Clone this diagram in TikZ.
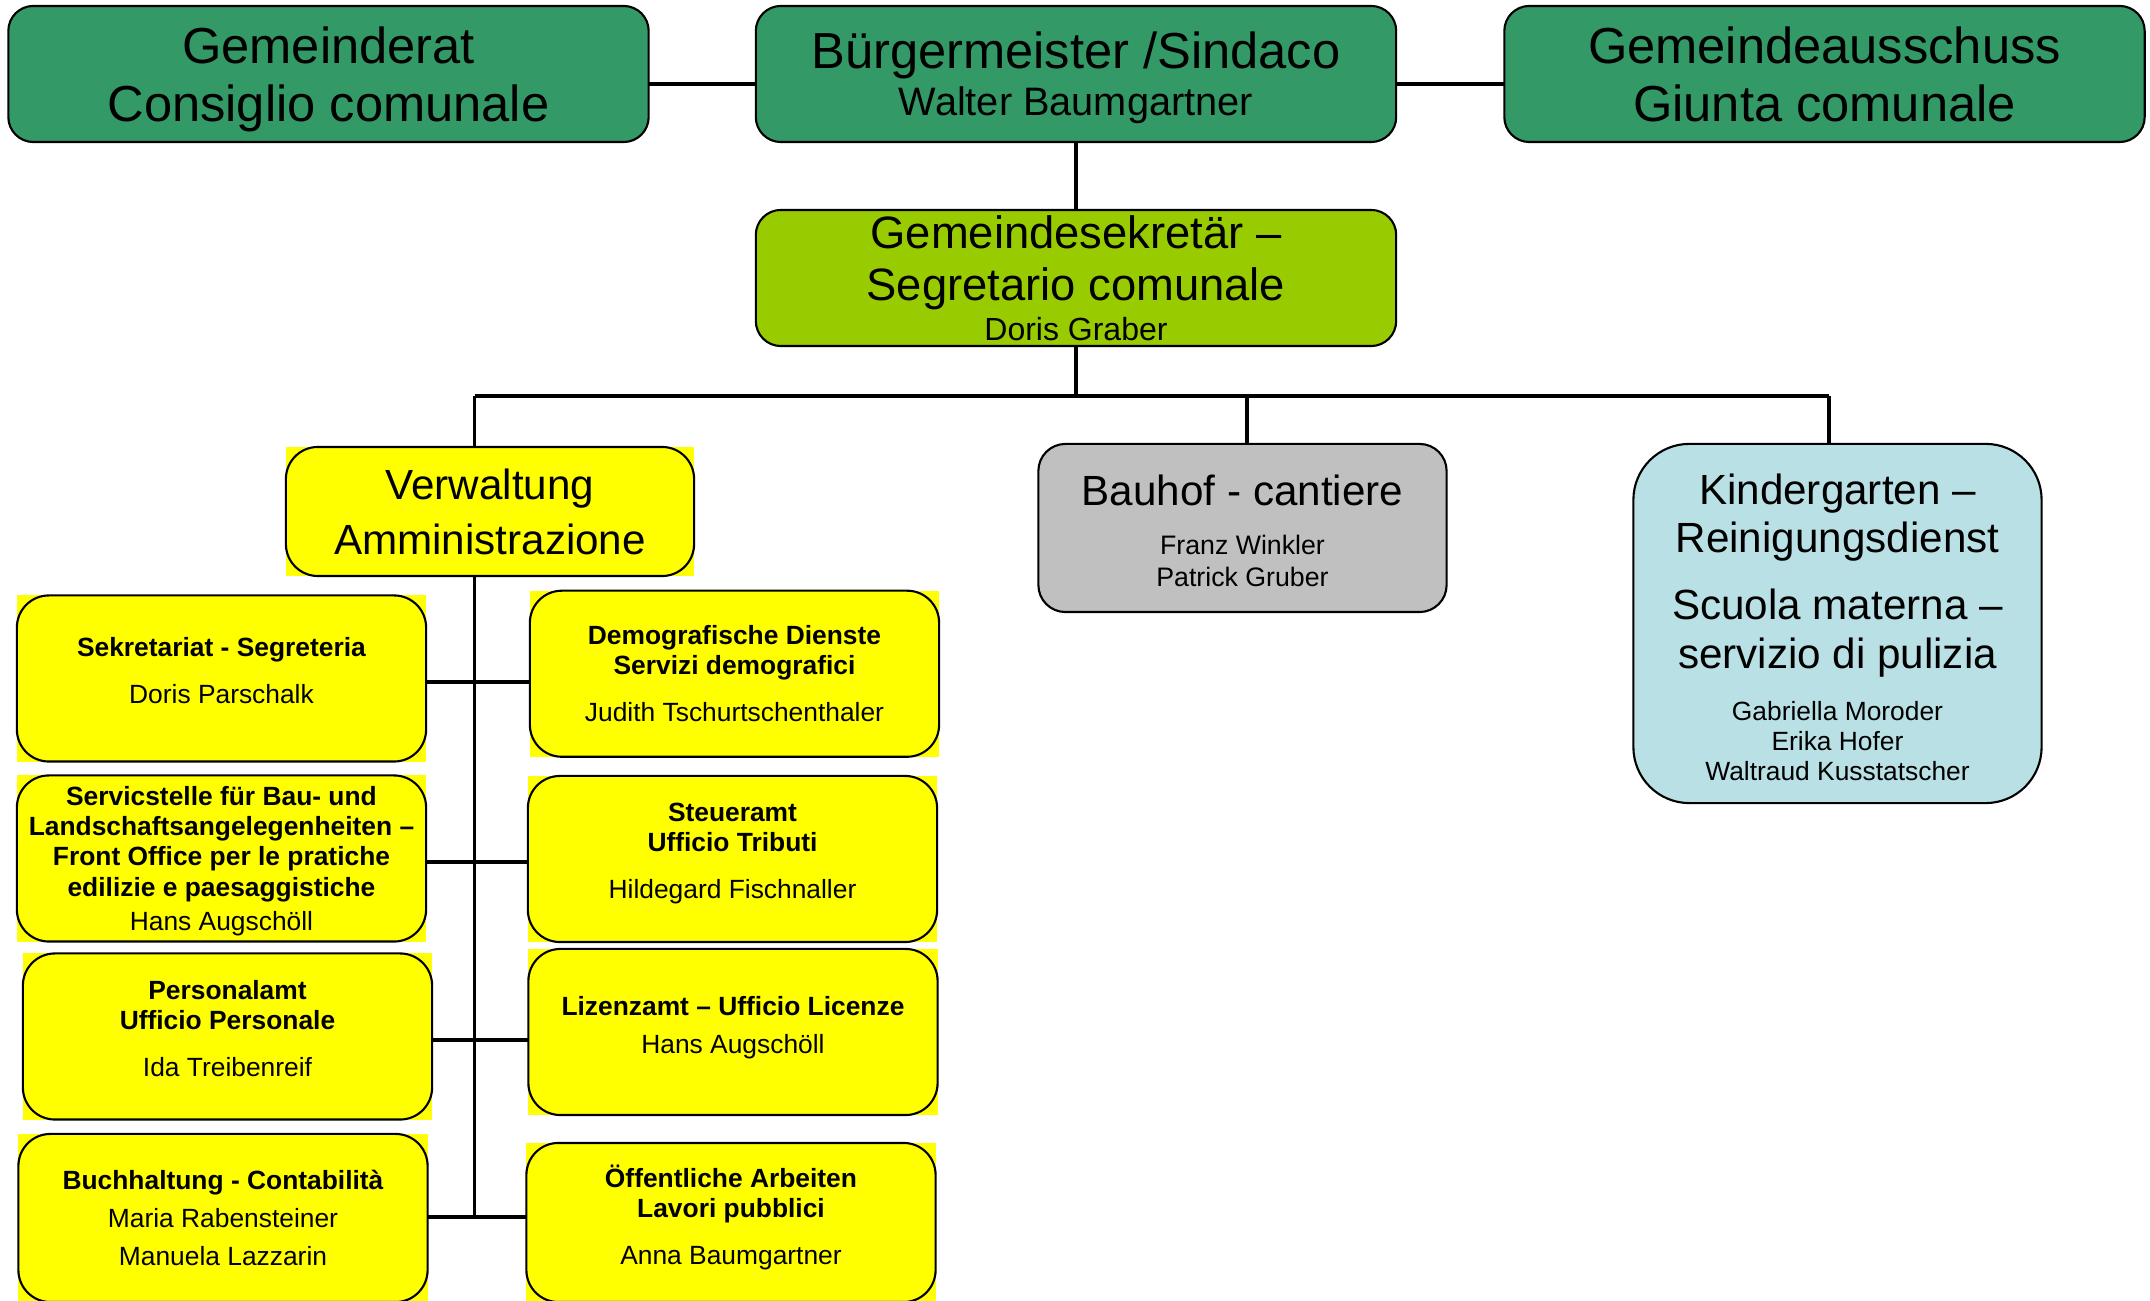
\documentclass[tikz,border=0pt]{standalone}
\usepackage{fontspec}
\setmainfont{Liberation Sans}
\usetikzlibrary{positioning}

\definecolor{ratgreen}{RGB}{51,153,102}
\definecolor{sekgreen}{RGB}{153,204,0}
\definecolor{kigablue}{RGB}{185,224,228}
\definecolor{bauhofgray}{RGB}{192,192,192}
\definecolor{officeyellow}{RGB}{255,255,0}

\begin{document}
\begin{tikzpicture}[
    x=0.01cm, y=-0.01cm,
    box/.style = {rectangle, inner sep=0pt, outer sep=0pt, align=center, text=black},
    council/.style = {box, draw=black, line width=0.6pt, rounded corners=0.25cm, fill=ratgreen,
                      minimum width=6.4cm, minimum height=1.36cm, text depth=0pt,
                      font=\fontsize{14.4}{16.4}\selectfont},
    secr/.style = {council, fill=sekgreen, font=\fontsize{12.9}{14.8}\selectfont},
    area/.style = {box, draw=black, line width=0.6pt, minimum width=4.08cm},
    office/.style = {box, fill=officeyellow, minimum width=4.09cm, minimum height=1.66cm,
                     font=\fontsize{7.5}{8.6}\selectfont},
    rim/.style = {draw=black, line width=0.6pt, rounded corners=0.32cm},
    conn/.style = {draw=black, line width=1pt},
    branch/.style = {conn, line width=1.2pt}
]
    \useasboundingbox (0,0) rectangle (2150,1301);

    % Council level
    \node[council] (gemrat) at (328.5,74) {Gemeinderat\\Consiglio comunale};
    \node[council] (buergm) at (1076,74) {Bürgermeister /Sindaco\\[-3.1pt]{\fontsize{11.3}{13}\selectfont Walter Baumgartner}};
    \node[council] (ausschuss) at (1824.5,74) {Gemeindeausschuss\\Giunta comunale};

    % Secretary
    \node[secr] (sekretaer) at (1076,278) {Gemeindesekretär –\\Segretario comunale\\[-3.5pt]{\fontsize{9.1}{11}\selectfont Doris Graber}};

    % Departments
    \node[office, minimum width=4.08cm, minimum height=1.29cm, font=\fontsize{12}{15.6}\selectfont] (verw) at (490,511.5) {Verwaltung\\Amministrazione};
    \node[area, fill=bauhofgray, rounded corners=0.27cm, minimum height=1.68cm, font=\fontsize{12}{15.6}\selectfont] (bauhof) at (1242.5,528) {\rule{0pt}{10.4pt}Bauhof - cantiere\\[-1.6pt]{\fontsize{7.6}{9}\selectfont Franz Winkler}\\[-6.6pt]{\fontsize{7.6}{9}\selectfont Patrick Gruber}};
    \node[area, fill=kigablue, rounded corners=0.56cm, minimum height=3.59cm, text depth=0pt, font=\fontsize{12}{14}\selectfont] (kiga) at (1837.5,623.5) {\rule{0pt}{10.8pt}Kindergarten –\\[-0.4pt]Reinigungsdienst\\[5.2pt]Scuola materna –\\servizio di pulizia\\[0.6pt]{\fontsize{7.5}{8.6}\selectfont Gabriella Moroder}\\[-5.4pt]{\fontsize{7.5}{8.6}\selectfont Erika Hofer}\\[-5.4pt]{\fontsize{7.5}{8.6}\selectfont Waltraud Kusstatscher}};

    % Offices, left column
    \node[office, text depth=4.7pt] (sekr) at (221.5,678.5) {\textbf{Sekretariat - Segreteria}\\[4.7pt]Doris Parschalk};
    \node[office, text depth=0pt] (service) at (221.5,858.5) {\textbf{Servicstelle für Bau- und}\\\textbf{Landschaftsangelegenheiten –}\\\textbf{Front Office per le pratiche}\\\textbf{edilizie e paesaggistiche}\\[1.2pt]Hans Augschöll};
    \node[office, text depth=4.7pt] (personal) at (227.5,1036.5) {\textbf{Personalamt}\\\textbf{Ufficio Personale}\\[4.7pt]Ida Treibenreif};
    \node[office, minimum height=1.68cm] (buchh) at (223,1218) {\textbf{Buchhaltung - Contabilità}\\[2.3pt]Maria Rabensteiner\\[2.3pt]Manuela Lazzarin};

    % Offices, right column
    \node[office] (demo) at (734.5,673.75) {\textbf{Demografische Dienste}\\\textbf{Servizi demografici}\\[4.7pt]Judith Tschurtschenthaler};
    \node[office, text depth=4.7pt] (steuer) at (732.5,859) {\textbf{Steueramt}\\\textbf{Ufficio Tributi}\\[4.7pt]Hildegard Fischnaller};
    \node[office, text depth=3.9pt] (lizenz) at (733,1032) {\textbf{Lizenzamt – Ufficio Licenze}\\[2.3pt]Hans Augschöll};
    \node[office, minimum height=1.59cm, text depth=4.3pt] (oeff) at (731,1222.5) {\textbf{Öffentliche Arbeiten}\\\textbf{Lavori pubblici}\\[4.7pt]Anna Baumgartner};

    % Rounded rims on the yellow boxes
    \foreach \n in {verw, sekr, service, personal, buchh, demo, steuer, lizenz, oeff}
        \draw[rim] (\n.south west) rectangle (\n.north east);

    % Bus and trunk points
    \coordinate (busL) at (474.6,396);
    \coordinate (busM) at (1247,396);
    \coordinate (busR) at (1829,396);
    \coordinate (trunk) at (474.6,1217);
    \coordinate (b1) at (474.6,682);
    \coordinate (b2) at (474.6,862);
    \coordinate (b3) at (474.6,1040);

    % Top connectors
    \draw[conn] ([yshift=-2.8pt]gemrat.east) -- ([yshift=-2.8pt]buergm.west);
    \draw[conn] ([yshift=-2.8pt]buergm.east) -- ([yshift=-2.8pt]ausschuss.west);
    \draw[conn] (buergm) -- (sekretaer);
    \draw[conn] (sekretaer.south) -- (sekretaer.south |- busL);
    \draw[conn] (busL) -- (busR);
    \draw[conn] (busL) -- (busL |- verw.north);
    \draw[conn] (busM) -- (busM |- bauhof.north);
    \draw[conn] (busR) -- (busR |- kiga.north);

    % Administration trunk and branches
    \draw[conn] (busL |- verw.south) -- (trunk);
    \draw[branch] (b1 -| sekr.east) -- (b1 -| demo.west);
    \draw[branch] (b2 -| service.east) -- (b2 -| steuer.west);
    \draw[branch] (b3 -| personal.east) -- (b3 -| lizenz.west);
    \draw[branch] (trunk -| buchh.east) -- (trunk -| oeff.west);

\end{tikzpicture}
\end{document}
